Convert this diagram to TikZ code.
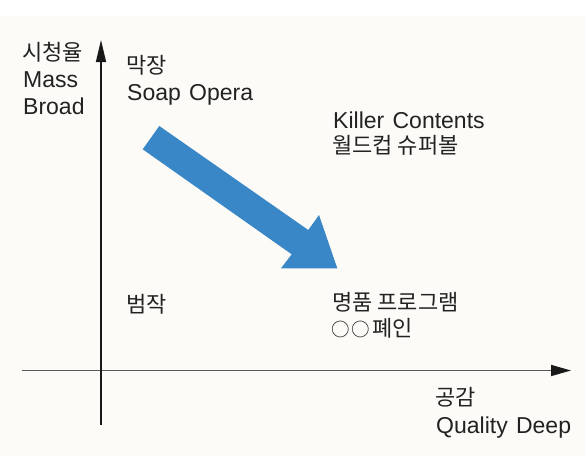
\documentclass[tikz,border=0pt]{standalone}
\usepackage{fontspec}
\setmainfont{Liberation Sans}[WordSpace=1.3]
\newfontfamily\kr{Noto Sans CJK KR}
\usetikzlibrary{arrows.meta}
\definecolor{bgcol}{HTML}{FCFBF7}
\definecolor{bluearrow}{HTML}{3A87C8}
\definecolor{txtcol}{HTML}{222222}
\tikzset{
  lbl/.style={anchor=base west, inner sep=0pt, text=txtcol, font=\fontsize{23}{27}\selectfont},
  krlbl/.style={anchor=base west, inner sep=0pt, text=txtcol, font=\kr\fontsize{22}{26}\selectfont},
  yaxis/.style={line width=1.5pt, draw=black!90, -{Triangle[length=22pt,width=10pt]}},
  xaxis/.style={line width=1.6pt, draw=black!65, -{Triangle[length=20pt,width=11pt,color=black!90]}},
}
\newcommand{\circmark}{{\fontsize{18.5}{22}\selectfont ○}\hspace{2pt}}
\begin{document}
\begin{tikzpicture}[x=1pt,y=-1pt]
\useasboundingbox (0,0) rectangle (587,456);
\fill[white] (0,0) rectangle (587,456);
\fill[bgcol] (0,16) rectangle (585,456);
% axes
\coordinate (ybot) at (101,425);
\coordinate (ytop) at (101,40);
\coordinate (xleft) at (22,370.5);
\coordinate (xright) at (571,370.5);
\draw[xaxis] (xleft) -- (xright);
\draw[yaxis] (ybot) -- (ytop);
% blue arrow
\fill[bluearrow] (159.3,126) -- (308.3,230) -- (319,215) -- (337.3,268.3) -- (281,268.3) -- (291.7,254.3) -- (142.7,149.3) -- cycle;
% labels
\node[krlbl] (ylab1) at (22,60.5) {시청율};
\node[lbl] (ylab2) at (23,87.5) {Mass};
\node[lbl] (ylab3) at (23,114.5) {Broad};
\node[krlbl] (tl1) at (126,73.5) {막장};
\node[lbl] (tl2) at (127,100) {Soap Opera};
\node[lbl] (tr1) at (333,128) {Killer Contents};
\node[krlbl] (tr2) at (332,153.5) {월드컵 슈퍼볼};
\node[krlbl] (bl1) at (126,312.5) {범작};
\node[krlbl] (br1) at (332,310.5) {명품 프로그램};
\node[krlbl] (br2) at (331,336.5) {\circmark\circmark 폐인};
\node[krlbl] (xlab1) at (435,405.5) {공감};
\node[lbl] (xlab2) at (436,433) {Quality Deep};
\end{tikzpicture}
\end{document}
